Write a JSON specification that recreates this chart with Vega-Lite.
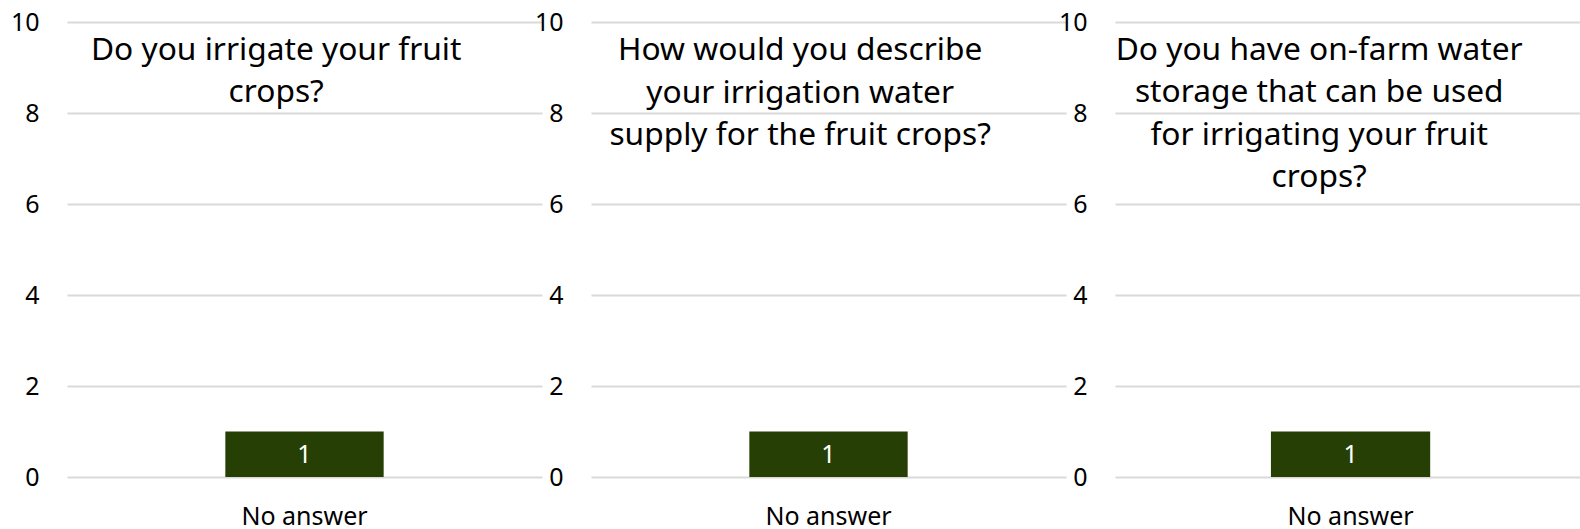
{
  "$schema": "https://vega.github.io/schema/vega-lite/v6.json",
  "padding": {"left": 10, "top": 10, "right": 0, "bottom": 0},
  "background": "white",
  "datasets": {
    "survey": [
      {"question": "q1", "answer": "No answer", "count": 1},
      {"question": "q2", "answer": "No answer", "count": 1},
      {"question": "q3", "answer": "No answer", "count": 1}
    ]
  },
  "data": {"name": "survey"},
  "spacing": 49,
  "bounds": "flush",
  "config": {
    "view": {"stroke": null},
    "font": "Noto Sans",
    "axis": {
      "labelFont": "Noto Sans",
      "labelColor": "#000000",
      "labelFontSize": 25,
      "domain": false,
      "ticks": false,
      "title": null,
      "gridColor": "#d9d9d9",
      "gridWidth": 2
    },
    "title": {
      "font": "Noto Sans",
      "fontSize": 31.7,
      "fontWeight": "normal",
      "color": "#000000",
      "anchor": "middle",
      "frame": "bounds",
      "lineHeight": 42.5
    }
  },
  "hconcat": [
    {
      "width": 475,
      "height": 455,
      "title": {"text": ["Do you irrigate your fruit", "crops?"], "offset": -99},
      "transform": [{"filter": "datum.question == 'q1'"}],
      "encoding": {
        "x": {"field": "answer", "type": "nominal", "scale": {"paddingInner": 0, "paddingOuter": 1}, "axis": {"labelAngle": 0, "labelPadding": 27, "grid": false}},
        "y": {"field": "count", "type": "quantitative", "scale": {"domain": [0, 10]}, "axis": {"values": [0, 2, 4, 6, 8, 10], "labelPadding": 28}}
      },
      "layer": [
        {"mark": {"type": "bar", "color": "#263F05"}},
        {"mark": {"type": "text", "color": "white", "fontSize": 25, "baseline": "middle", "dy": 23}, "encoding": {"text": {"field": "count", "type": "quantitative"}}}
      ]
    },
    {
      "width": 475,
      "height": 455,
      "title": {"text": ["How would you describe", "your irrigation water", "supply for the fruit crops?"], "offset": -142},
      "transform": [{"filter": "datum.question == 'q2'"}],
      "encoding": {
        "x": {"field": "answer", "type": "nominal", "scale": {"paddingInner": 0, "paddingOuter": 1}, "axis": {"labelAngle": 0, "labelPadding": 27, "grid": false}},
        "y": {"field": "count", "type": "quantitative", "scale": {"domain": [0, 10]}, "axis": {"values": [0, 2, 4, 6, 8, 10], "labelPadding": 28}}
      },
      "layer": [
        {"mark": {"type": "bar", "color": "#263F05"}},
        {"mark": {"type": "text", "color": "white", "fontSize": 25, "baseline": "middle", "dy": 23}, "encoding": {"text": {"field": "count", "type": "quantitative"}}}
      ]
    },
    {
      "width": 465,
      "height": 455,
      "title": {"text": ["Do you have on-farm water", "storage that can be used", "for irrigating your fruit", "crops?"], "offset": -184},
      "transform": [{"filter": "datum.question == 'q3'"}],
      "encoding": {
        "x": {"field": "answer", "type": "nominal", "scale": {"paddingInner": 0, "paddingOuter": 0.96, "align": 0.51}, "axis": {"labelAngle": 0, "labelPadding": 27, "grid": false}},
        "y": {"field": "count", "type": "quantitative", "scale": {"domain": [0, 10]}, "axis": {"values": [0, 2, 4, 6, 8, 10], "labelPadding": 28}}
      },
      "layer": [
        {"mark": {"type": "bar", "color": "#263F05"}},
        {"mark": {"type": "text", "color": "white", "fontSize": 25, "baseline": "middle", "dy": 23}, "encoding": {"text": {"field": "count", "type": "quantitative"}}}
      ]
    }
  ]
}
